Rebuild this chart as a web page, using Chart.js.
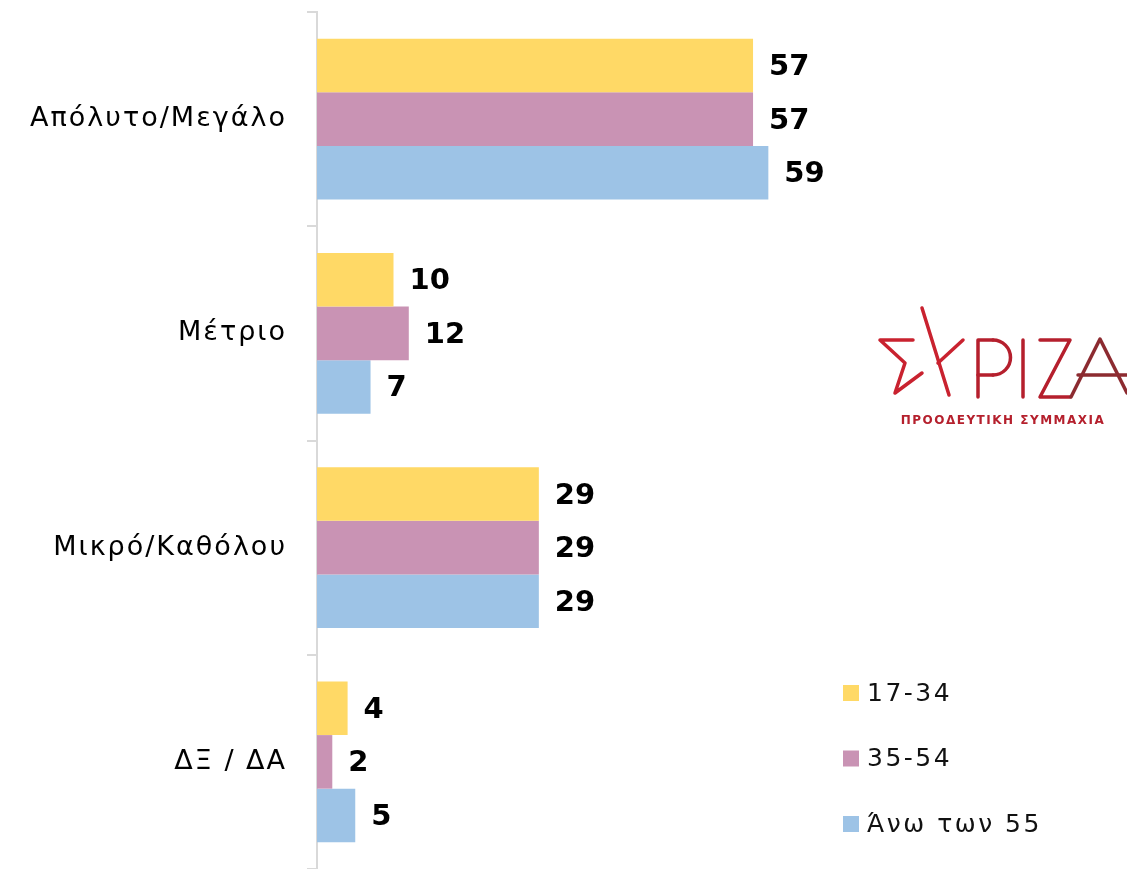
<!DOCTYPE html>
<html>
<head>
<meta charset="utf-8">
<script src="https://cdn.jsdelivr.net/npm/chart.js@4"></script>
<style>
  html, body { margin: 0; padding: 0; background: #fff; }
  #wrap { position: relative; width: 1127px; height: 869px; }
</style>
</head>
<body>
<div id="wrap"><canvas id="myChart"></canvas></div>
<script>
const categories = ['Απόλυτο/Μεγάλο', 'Μέτριο', 'Μικρό/Καθόλου', 'ΔΞ / ΔΑ'];
const seriesNames = ['17-34', '35-54', 'Άνω των 55'];
const young = [57, 10, 29, 4];
const middle = [57, 12, 29, 2];
const older = [59, 7, 29, 5];
const colors = ['#ffd966', '#c993b4', '#9dc3e6'];

const FONT = '"DejaVu Sans", sans-serif';

// wide, geometric look of the original typeface
const spacing = {
  id: 'spacing',
  beforeDraw(chart) { chart.ctx.letterSpacing = '2px'; },
  afterDatasetsDraw(chart) { chart.ctx.letterSpacing = '0px'; }
};

// value labels at bar ends
const valueLabels = {
  id: 'valueLabels',
  afterDatasetsDraw(chart) {
    const ctx = chart.ctx;
    ctx.save();
    ctx.font = 'bold 29px ' + FONT;
    ctx.fillStyle = '#000';
    ctx.textBaseline = 'middle';
    ctx.textAlign = 'left';
    chart.data.datasets.forEach((ds, i) => {
      chart.getDatasetMeta(i).data.forEach((bar, j) => {
        ctx.fillText(ds.data[j], bar.x + 16, bar.y + 2);
      });
    });
    ctx.restore();
  }
};

// legend in the lower right
const sideLegend = {
  id: 'sideLegend',
  afterDraw(chart) {
    const ctx = chart.ctx;
    ctx.save();
    ctx.font = '25px ' + FONT;
    ctx.letterSpacing = '2.5px';
    ctx.textBaseline = 'middle';
    chart.data.datasets.forEach((ds, i) => {
      const y = 693 + i * 65.5;
      ctx.fillStyle = ds.backgroundColor;
      ctx.fillRect(843, y - 8, 16, 16);
      ctx.fillStyle = '#111';
      ctx.fillText(ds.label, 867, y + 1);
    });
    ctx.restore();
  }
};

// party logo
const logo = {
  id: 'logo',
  afterDraw(chart) {
    const ctx = chart.ctx;
    ctx.save();
    ctx.lineWidth = 3.5;
    ctx.lineCap = 'round';
    ctx.lineJoin = 'round';
    const red = '#c9222f';
    const wine = '#b51f2d';
    const dark = '#8c2b30';
    const lines = [
      [red, [[913, 340], [880, 340], [905, 363], [895, 393], [922, 373]]],
      [red, [[922, 308], [949, 395]]],
      [red, [[963, 340], [938, 363]]],
      [wine, [[978, 397], [978, 340], [993, 340]]],
      [wine, [[978, 375], [993, 375]]],
      [wine, [[1023, 340], [1023, 397]]],
      [wine, [[1040, 340], [1070, 340], [1040, 397], [1070, 397]]],
      [dark, [[1071, 397], [1100, 339], [1127, 393]]],
      [dark, [[1078, 375], [1127, 375]]]
    ];
    lines.forEach(([c, pts]) => {
      ctx.strokeStyle = c;
      ctx.beginPath();
      ctx.moveTo(pts[0][0], pts[0][1]);
      pts.slice(1).forEach(p => ctx.lineTo(p[0], p[1]));
      ctx.stroke();
    });
    // P bowl
    ctx.strokeStyle = wine;
    ctx.beginPath();
    ctx.arc(993, 357.5, 17.5, -Math.PI / 2, Math.PI / 2);
    ctx.stroke();
    ctx.fillStyle = '#b5202d';
    ctx.font = 'bold 12px ' + FONT;
    ctx.letterSpacing = '1.5px';
    ctx.textBaseline = 'middle';
    ctx.textAlign = 'center';
    ctx.fillText('ΠΡΟΟΔΕΥΤΙΚΗ ΣΥΜΜΑΧΙΑ', 1003, 421);
    ctx.restore();
  }
};

const data = {
  labels: categories,
  datasets: [
    { label: seriesNames[0], data: young, backgroundColor: colors[0] },
    { label: seriesNames[1], data: middle, backgroundColor: colors[1] },
    { label: seriesNames[2], data: older, backgroundColor: colors[2] }
  ]
};

const config = {
  type: 'bar',
  data: data,
  options: {
    indexAxis: 'y',
    responsive: true,
    maintainAspectRatio: false,
    animation: false,
    categoryPercentage: 0.75,
    barPercentage: 1,
    layout: { padding: { top: 12, right: 45, bottom: 0, left: 0 } },
    plugins: {
      legend: { display: false },
      tooltip: { enabled: false }
    },
    scales: {
      x: {
        display: false,
        min: 0,
        max: 100
      },
      y: {
        afterFit: scale => {
          scale.width = 317;
          scale.paddingTop = 0;
          scale.paddingBottom = 0;
        },
        border: { display: true, color: '#d9d9d9', width: 2 },
        grid: {
          offset: true,
          drawOnChartArea: false,
          tickLength: 10,
          color: '#d9d9d9',
          lineWidth: 2
        },
        ticks: {
          padding: 20,
          color: '#000',
          font: { family: FONT, size: 27 }
        }
      }
    }
  },
  plugins: [spacing, valueLabels, sideLegend, logo]
};

const myChart = new Chart(document.getElementById('myChart'), config);
</script>
</body>
</html>
